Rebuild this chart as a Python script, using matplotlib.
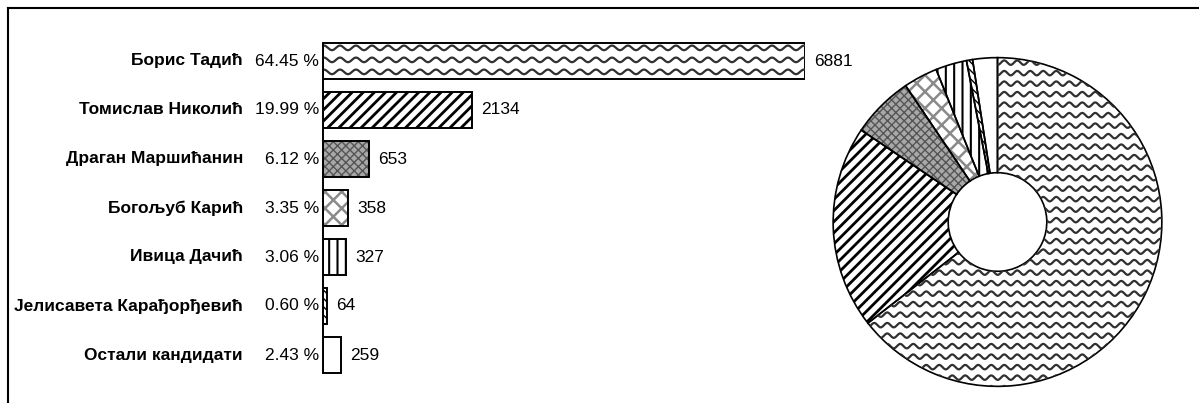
import numpy as np
import matplotlib
matplotlib.use('Agg')
from matplotlib import pyplot as plt
from matplotlib.lines import Line2D
from matplotlib.transforms import IdentityTransform

names = ['Борис Тадић', 'Томислав Николић', 'Драган Маршићанин', 'Богољуб Карић',
         'Ивица Дачић', 'Јелисавета Карађорђевић', 'Остали кандидати']
votes = [6881, 2134, 653, 358, 327, 64, 259]

# hatch pattern / hatch colour / face colour per candidate (None = wavy fill)
hatches = [None, '///', 'xxxx', 'xx', '||', '\\\\\\\\', '']
hatch_colors = ['#303030', 'black', '#555555', '#8a8a8a', 'black', 'black', 'black']
hatch_lws = [1.0, 2.0, 1.0, 1.8, 1.5, 1.0, 1.0]
faces = ['white', 'white', '#a8a8a8', 'white', 'white', 'white', 'white']

plt.rcParams['font.family'] = ['Liberation Sans', 'DejaVu Sans']

W, H = 1199, 403
fig = plt.figure(figsize=(W / 100, H / 100), dpi=100)

total = sum(votes)
pcts = [100 * v / total for v in votes]


def style_patch(p, face, hatch, hcolor, hlw):
    p.set_facecolor(face)
    p.set_edgecolor(hcolor)
    if hatch:
        p.set_hatch(hatch)
        if hasattr(p, 'set_hatch_linewidth'):
            p.set_hatch_linewidth(hlw)


def add_waves(ax, patch, color, period=16, amp=2.3, gap=12, phase=0):
    bb = patch.get_window_extent()
    xs = np.arange(bb.x0 - period, bb.x1 + period, 0.5)
    y = bb.y1 - 5 - phase
    while y > bb.y0 - gap:
        ys = y + amp * np.sin(2 * np.pi * xs / period)
        ln = Line2D(xs, ys, color=color, lw=1.6, transform=IdentityTransform())
        ax.add_artist(ln)
        ln.set_clip_path(patch)
        y -= gap


# ---- bar chart ----
x0, x1 = 323, 805
yc_top, step = 61, 49
n = len(votes)
top = yc_top - step / 2
bot = yc_top + step * (n - 1) + step / 2
ax = fig.add_axes([x0 / W, (H - bot) / H, (x1 - x0) / W, (bot - top) / H])
ax.set_xlim(0, votes[0])
ax.set_ylim(n - 0.5, -0.5)
pos = np.arange(n)
fill = ax.barh(pos, votes, height=0.74, linewidth=0)
for b, f, h, c, lw in zip(fill, faces, hatches, hatch_colors, hatch_lws):
    style_patch(b, f, h, c, lw)
ax.barh(pos, votes, height=0.74, fill=False, edgecolor='black', linewidth=1.4)
for s in ['top', 'right', 'bottom']:
    ax.spines[s].set_visible(False)
ax.spines['left'].set_bounds(-0.37, n - 1 + 0.37)
ax.spines['left'].set_linewidth(1.4)
ax.set_xticks([])
ax.set_yticks([])

fs = 12.5
for i in range(n):
    ax.annotate(names[i], (0, i), xytext=(-80, 0), textcoords='offset pixels',
                ha='right', va='center', fontsize=fs, fontweight='bold')
    ax.annotate('%.2f %%' % pcts[i], (0, i), xytext=(-4, 0), textcoords='offset pixels',
                ha='right', va='center', fontsize=fs)
    ax.annotate(str(votes[i]), (votes[i], i), xytext=(9, 0), textcoords='offset pixels',
                ha='left', va='center', fontsize=fs)

# ---- donut ----
cx, cy, r = 997.5, 222, 166
ax2 = fig.add_axes([(cx - r) / W, (H - cy - r) / H, 2 * r / W, 2 * r / H])
wedges, _ = ax2.pie(votes, startangle=90, counterclock=False, radius=1,
                    wedgeprops=dict(width=0.7, linewidth=0))
for w, f, h, c, lw in zip(wedges, faces, hatches, hatch_colors, hatch_lws):
    style_patch(w, f, h, c, lw)
outline, _ = ax2.pie(votes, startangle=90, counterclock=False, radius=1,
                     wedgeprops=dict(width=0.7, fill=False, edgecolor='black', linewidth=1.2))
ax2.set_xlim(-1.01, 1.01)
ax2.set_ylim(-1.01, 1.01)
ax2.axis('off')

add_waves(ax, fill[0], hatch_colors[0])
add_waves(ax2, wedges[0], hatch_colors[0], period=13, amp=2.2, gap=10.5)

# page frame
fig.add_artist(Line2D([8, W], [H - 8, H - 8], color='black', lw=1.5, transform=IdentityTransform()))
fig.add_artist(Line2D([8, 8], [0, H - 8], color='black', lw=1.5, transform=IdentityTransform()))

fig.savefig('out.png', dpi=100)
